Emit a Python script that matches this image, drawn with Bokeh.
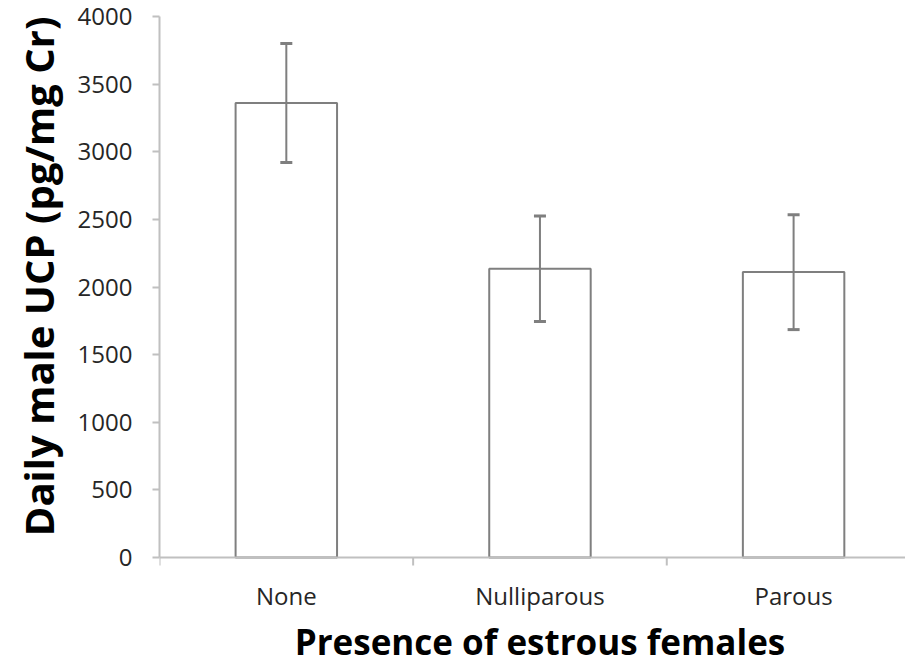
from bokeh.plotting import figure
from bokeh.models import Range1d, FixedTicker, ColumnDataSource, Whisker, TeeHead, Span, Title
from bokeh.core.properties import value
from bokeh.embed import file_html
from bokeh.resources import INLINE

categories = ["None", "Nulliparous", "Parous"]
means = [3360, 2135, 2110]
errors = [440, 390, 425]
y_ticks = [0, 500, 1000, 1500, 2000, 2500, 3000, 3500, 4000]
x_title = "Presence of estrous females"
y_title = "Daily male UCP (pg/mg Cr)"

Y_MAX = 4000
W, H = 905, 658
LEFT, TOP = 155, 16
ZERO_PX = 557            # pixel row of value 0
CAT_W = 255              # pixel width of one category
ppu = (ZERO_PX - TOP) / Y_MAX          # pixels per data unit (y)
y_lo = -(H - ZERO_PX) / ppu            # frame extends below 0 to hold x-axis texts

xpos = [i + 0.5 for i in range(len(categories))]
src = ColumnDataSource(dict(
    x=xpos, top=means,
    upper=[m + e for m, e in zip(means, errors)],
    lower=[m - e for m, e in zip(means, errors)],
))

p = figure(width=W, height=H, output_backend="svg", toolbar_location=None,
           x_range=Range1d(0, (W - LEFT) / CAT_W), y_range=Range1d(y_lo, Y_MAX),
           min_border_left=LEFT, min_border_right=0, min_border_top=TOP,
           min_border_bottom=0)
p.outline_line_color = None
p.grid.visible = False
p.xaxis.visible = False

axis_grey = "#c0c0c0"
label_color = "#262626"
font = "Open Sans"

# manual category axis at y = 0
p.add_layout(Span(location=0, dimension="width", line_color=axis_grey, line_width=2))
bounds = list(range(len(categories) + 1))
p.segment(x0=bounds, y0=[0] * len(bounds), x1=bounds, y1=[-8 / ppu] * len(bounds),
          line_color=axis_grey, line_width=2)
p.text(x=xpos, y=[-38 / ppu] * len(xpos), text=categories,
       text_font=value(font), text_font_size="24px", text_color=label_color,
       text_align="center", text_baseline="middle")
p.text(x=[len(categories) / 2], y=[-84 / ppu], text=[x_title],
       text_font=value(font), text_font_style="bold", text_font_size="35px",
       text_color="black", text_align="center", text_baseline="middle")

p.vbar(x="x", top="top", width=0.4, bottom=0, source=src,
       fill_color="white", line_color="#7f7f7f", line_width=2)

w = Whisker(base="x", upper="upper", lower="lower", source=src,
            line_color="#7f7f7f", line_width=2, level="annotation",
            upper_head=TeeHead(size=12, line_color="#7f7f7f", line_width=3),
            lower_head=TeeHead(size=12, line_color="#7f7f7f", line_width=3))
p.add_layout(w)

ya = p.yaxis[0]
ya.ticker = FixedTicker(ticks=y_ticks)
ya.bounds = (0, Y_MAX)
ya.major_tick_in = 0
ya.major_tick_out = 7
ya.major_tick_line_color = axis_grey
ya.major_tick_line_width = 2
ya.minor_tick_line_color = None
ya.axis_line_color = axis_grey
ya.axis_line_width = 2
ya.major_label_text_font = font
ya.major_label_text_font_size = "24px"
ya.major_label_text_color = label_color
ya.major_label_standoff = 20

# y-axis title as a side title aligned to the top of the plot area
p.add_layout(Title(text=y_title, align="right", text_font=font,
                   text_font_style="bold", text_font_size="40px",
                   text_color="black", standoff=17), "left")

open("out.html", "w").write(file_html(p, INLINE))
